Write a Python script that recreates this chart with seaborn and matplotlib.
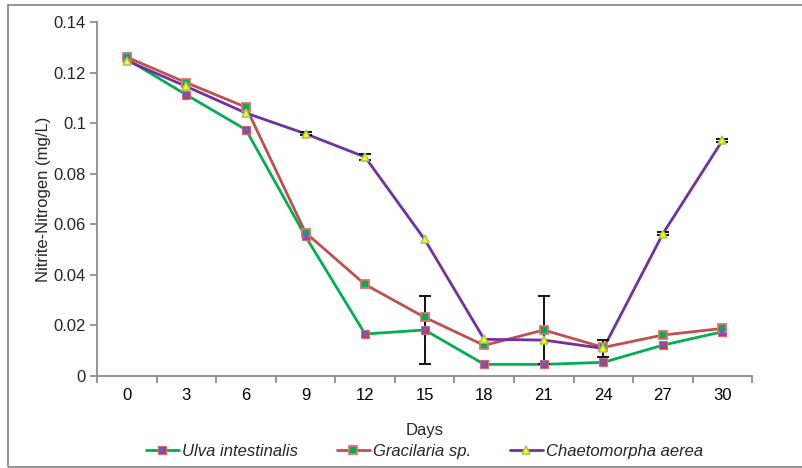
import matplotlib
matplotlib.use('Agg')
import matplotlib.pyplot as plt
from matplotlib.lines import Line2D
from matplotlib.legend_handler import HandlerTuple
from matplotlib.patches import Rectangle
import seaborn as sns
import pandas as pd
import numpy as np

#   Data
days = [0, 3, 6, 9, 12, 15, 18, 21, 24, 27, 30]
ulva = [0.1253, 0.1112, 0.0974, 0.0552, 0.0166, 0.0182, 0.0046, 0.0046, 0.0054, 0.0122, 0.0175]
gracilaria = [0.1261, 0.1160, 0.1063, 0.0567, 0.0362, 0.0232, 0.0121, 0.0182, 0.0113, 0.0162, 0.0188]
chaeto = [0.1247, 0.1145, 0.1040, 0.0958, 0.0866, 0.0540, 0.0145, 0.0142, 0.0109, 0.0563, 0.0932]
ulva_err = [0, 0, 0, 0, 0, 0.0135, 0, 0, 0, 0, 0]
gracilaria_err = [0, 0, 0, 0, 0, 0, 0, 0.0135, 0, 0, 0]
chaeto_err = [0, 0, 0, 0.0005, 0.0012, 0, 0, 0, 0.0032, 0.0005, 0.0005]

names = ['Ulva intestinalis', 'Gracilaria sp.', 'Chaetomorpha aerea']
line_colors = ['#00B050', '#C0504D', '#7030A0']

sns.set_style('white')
plt.rcParams['font.family'] = ['Liberation Sans', 'DejaVu Sans']

df = pd.DataFrame({'Days': days * 3,
                   'value': ulva + gracilaria + chaeto,
                   'err': ulva_err + gracilaria_err + chaeto_err,
                   'species': [n for n in names for _ in days]})

fig = plt.figure(figsize=(8.02, 4.68), dpi=100)
ax = fig.add_axes([0.121, 0.1966, 0.817, 0.7564])

sns.lineplot(data=df, x='Days', y='value', hue='species', palette=line_colors,
             hue_order=names, linewidth=2.0, ax=ax, legend=False, sort=False)

#   Error bars
for name in names:
    sub = df[(df['species'] == name) & (df['err'] > 0)]
    ax.errorbar(sub['Days'], sub['value'], yerr=sub['err'], fmt='none',
                ecolor='black', elinewidth=1.3, capsize=4, capthick=1.3, zorder=3)

#   Markers
u_sq = dict(ls='', marker='s', ms=6, mfc='#FF2020', mec='#F06070', mew=0.8)
u_x = dict(ls='', marker='x', ms=4.5, mec='#4F6AC8', mew=1.5)
g_sq = dict(ls='', marker='s', ms=6, mfc='#00B050', mec='#E07070', mew=1.3)
c_tr = dict(ls='', marker='^', ms=6, mfc='#FFFF00', mec='#9BCB5A', mew=1.1)

u = df[df['species'] == names[0]]
g = df[df['species'] == names[1]]
c = df[df['species'] == names[2]]
ax.plot(u['Days'], u['value'], zorder=4, **u_sq)
ax.plot(u['Days'], u['value'], zorder=5, **u_x)
ax.plot(g['Days'], g['value'], zorder=4, **g_sq)
ax.plot(c['Days'], c['value'], zorder=6, **c_tr)

ax.set_xlim(-1.5, 31.5)
ax.set_ylim(0, 0.14)
ax.set_xticks(days)
ax.set_xticklabels([str(d) for d in days])
ax.set_xticks(np.arange(-1.5, 32, 3), minor=True)
ax.set_yticks(np.arange(0, 0.141, 0.02))
ax.set_yticklabels(['0', '0.02', '0.04', '0.06', '0.08', '0.1', '0.12', '0.14'])

ax.tick_params(axis='x', which='major', length=0, labelsize=12, pad=9, colors='black')
ax.tick_params(axis='x', which='minor', length=5, width=1.3, color='#8C8C8C', direction='out', bottom=True)
ax.tick_params(axis='y', length=5, width=1.3, color='#8C8C8C', direction='out', labelsize=12, left=True, pad=3)

for s in ['top', 'right']:
    ax.spines[s].set_visible(False)
for s in ['left', 'bottom']:
    ax.spines[s].set_color('#8C8C8C')
    ax.spines[s].set_linewidth(1.3)

ax.set_xlabel('Days', fontsize=12, labelpad=14)
ax.set_ylabel('Nitrite-Nitrogen (mg/L)', fontsize=12)
ax.yaxis.set_label_coords(-0.07, 0.5)

#   Legend
h_ulva = (Line2D([], [], color=line_colors[0], lw=2.0), Line2D([], [], **u_sq), Line2D([], [], **u_x))
h_grac = (Line2D([], [], color=line_colors[1], lw=2.0), Line2D([], [], **g_sq))
h_chae = (Line2D([], [], color=line_colors[2], lw=2.0), Line2D([], [], **c_tr))
leg = ax.legend([h_ulva, h_grac, h_chae], names,
                handler_map={tuple: HandlerTuple(ndivide=1, pad=0)},
                loc='center', bbox_to_anchor=(0.5, -0.213), ncol=3, frameon=False,
                prop={'style': 'italic', 'size': 12}, handlelength=2.0,
                handletextpad=0.2, columnspacing=2.3)

#   Chart area border
fig.patches.append(Rectangle((8 / 802, 1 / 468), 1.2, 462 / 468, transform=fig.transFigure,
                             fill=False, edgecolor='#8C8C8C', linewidth=1.3))

fig.savefig('out.png', dpi=100)
